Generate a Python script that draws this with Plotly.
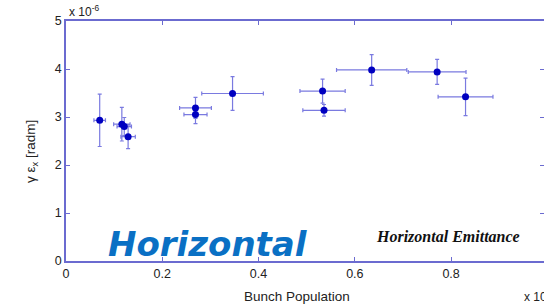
import plotly.graph_objects as go

# Data (x in units of 1e10, y in 1e-6 rad m)
bunch_pop = [0.070, 0.116, 0.121, 0.129, 0.269, 0.269, 0.346, 0.533, 0.536, 0.635, 0.771, 0.830]
emittance = [2.93, 2.85, 2.80, 2.59, 3.19, 3.05, 3.49, 3.54, 3.14, 3.98, 3.94, 3.42]
x_err = [0.012, 0.017, 0.015, 0.015, 0.033, 0.024, 0.064, 0.047, 0.044, 0.073, 0.060, 0.057]
y_err = [0.545, 0.35, 0.19, 0.25, 0.22, 0.19, 0.35, 0.25, 0.12, 0.32, 0.26, 0.39]

x_ticks = [0, 0.2, 0.4, 0.6, 0.8, 1.0]
x_tick_labels = ["0", "0.2", "0.4", "0.6", "0.8", "1"]
y_ticks = [0, 1, 2, 3, 4, 5]

frame_color = "#6b6bd0"
err_color = "#7a7ae0"
label_font = dict(family="Liberation Sans, Arial", size=13.5, color="#222222")

fig = go.Figure()
fig.add_trace(go.Scatter(
    x=bunch_pop, y=emittance, mode="markers",
    marker=dict(color="#0000c0", size=7),
    error_x=dict(type="data", array=x_err, color=err_color, thickness=1.2, width=2),
    error_y=dict(type="data", array=y_err, color=err_color, thickness=1.2, width=2),
    showlegend=False,
))

axis_common = dict(
    showline=True, linecolor=frame_color, linewidth=1.5, mirror="ticks",
    ticks="inside", ticklen=4, tickcolor=frame_color, showgrid=False, zeroline=False,
    automargin=False,
    tickfont=dict(family="Liberation Sans, Arial", size=12.5, color="#222222"),
)

fig.update_layout(
    width=544, height=307,
    margin=dict(l=66, r=0, t=21, b=46),
    paper_bgcolor="white", plot_bgcolor="white",
    xaxis=dict(range=[0, 0.993], tickvals=x_ticks, ticktext=x_tick_labels, **axis_common),
    yaxis=dict(range=[0, 5], tickvals=y_ticks, **axis_common),
)

# axis titles
fig.add_annotation(xref="paper", yref="paper", x=(297 - 66) / 478, y=(261 - 296) / 240,
                   xanchor="center", yanchor="middle", text="Bunch Population",
                   showarrow=False, font=label_font)
fig.add_annotation(xref="paper", yref="paper", x=(31 - 66) / 478, y=(261 - 152) / 240,
                   xanchor="center", yanchor="middle", textangle=-90,
                   text="γ ε<sub>x</sub> [radm]", showarrow=False, font=label_font)

fig.add_annotation(xref="paper", yref="paper", x=0.003, y=1.0, xanchor="left", yanchor="bottom",
                   text="x 10<sup>-6</sup>", showarrow=False,
                   font=dict(family="Liberation Sans, Arial", size=12, color="#222222"))
fig.add_annotation(xref="paper", yref="paper", x=(522 - 66) / 478, y=(261 - 296) / 240,
                   xanchor="left", yanchor="middle",
                   text="x 10<sup>10</sup>", showarrow=False,
                   font=dict(family="Liberation Sans, Arial", size=12, color="#222222"))
fig.add_annotation(xref="paper", yref="paper", x=(448 - 66) / 478, y=(261 - 236) / 240,
                   xanchor="center", yanchor="middle",
                   text="<b><i>Horizontal Emittance</i></b>", showarrow=False,
                   font=dict(family="Liberation Serif, Times New Roman", size=16, color="#111111"))
fig.add_annotation(xref="paper", yref="paper", x=(106 - 66) / 478, y=-0.02, xanchor="left", yanchor="bottom",
                   text="<b><i>Horizontal</i></b>", showarrow=False,
                   font=dict(family="DejaVu Sans", size=34, color="#0a70c4"))

fig.write_html("out.html", config={"displayModeBar": False},
               post_script="document.body.style.margin='0';")
